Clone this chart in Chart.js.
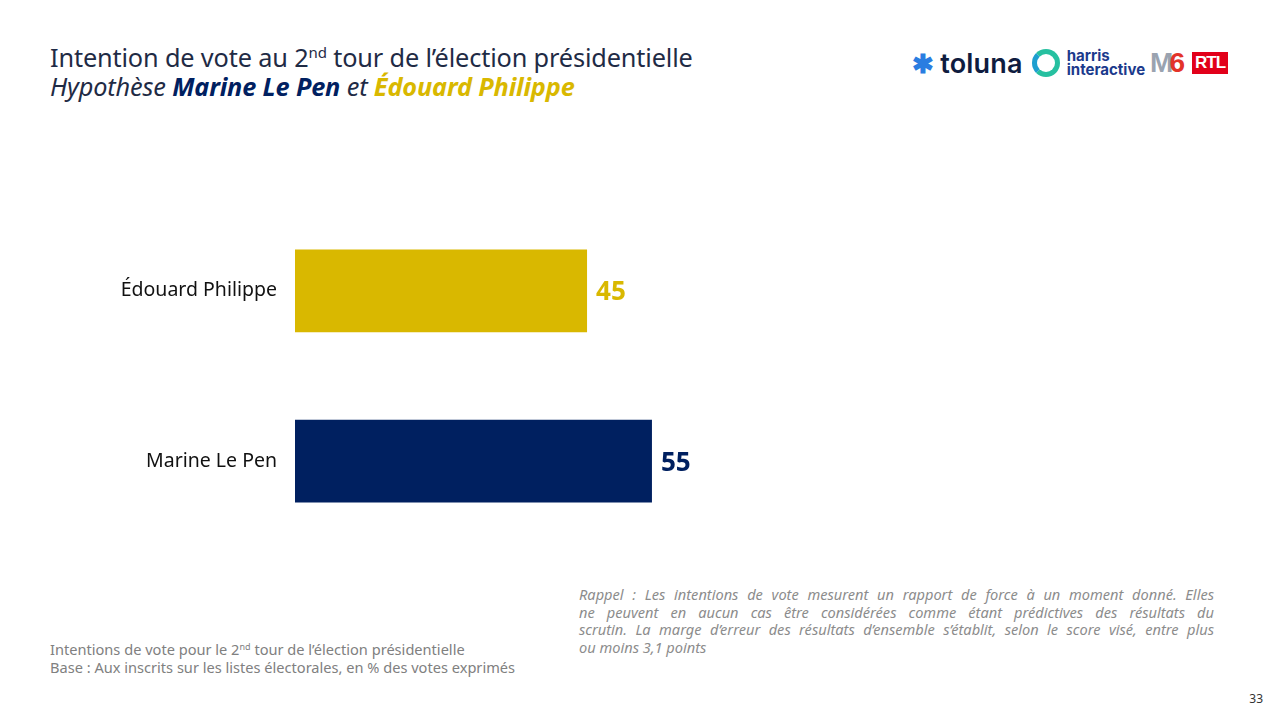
<!DOCTYPE html>
<html lang="fr">
  <head>
    <meta charset="UTF-8" />
    <script src="https://cdn.jsdelivr.net/npm/chart.js@4.4.0/dist/chart.umd.min.js"></script>
    <title>Intention de vote 2nd tour</title>
    <style>
      html, body { margin: 0; padding: 0; background: #fff; }
      body { width: 1280px; height: 720px; position: relative; overflow: hidden; font-family: "Noto Sans", sans-serif; }
      .title { position: absolute; left: 50px; top: 43px; color: #1f2b45; font-size: 25.3px; line-height: 29px; letter-spacing: -0.15px; }
      .title sup { font-size: 15px; vertical-align: 9px; line-height: 0; }
      .title i b.navy { color: #002060; }
      .title i b.gold { color: #d9b800; }
      .chart_wrap { position: absolute; left: 0; top: 184px; width: 1280px; height: 384px; }
      .note_left { position: absolute; left: 50px; top: 641px; color: #808080; font-size: 14.6px; line-height: 17.5px; }
      .note_left sup { font-size: 9px; vertical-align: 5px; line-height: 0; }
      .note_right { position: absolute; left: 579px; top: 586px; width: 635px; color: #8c8c8c; font-size: 14.6px; line-height: 17.7px; font-style: italic; }
      .note_right span { display: block; text-align: justify; text-align-last: justify; }
      .note_right span.last { text-align-last: left; }
      .page_num { position: absolute; right: 17px; top: 690px; font-size: 12px; color: #333; }
      .logos { position: absolute; left: 912px; top: 46px; height: 34px; display: flex; align-items: center; }
      .toluna { font-family: "Inter", sans-serif; font-weight: 600; font-size: 27px; color: #0f1c3f; letter-spacing: 0.2px; }
      .toluna .star { color: #2a7de1; font-size: 26px; margin-right: 6px; }
      .ring { width: 18px; height: 18px; border-radius: 50%; border: 5px solid #26c0a0; border-left-color: #1e9fd0; margin-left: 9px; margin-right: 7px; }
      .harris { font-family: "Inter", sans-serif; font-weight: 700; font-size: 15px; line-height: 14px; color: #1b3a8c; }
      .m6 { font-family: "Liberation Sans", sans-serif; font-weight: 700; font-size: 28px; color: #9aa3b0; margin-left: 5px; letter-spacing: -4px; }
      .m6 span { color: #e3332a; }
      .rtl { background: #e2001a; color: #fff; font-family: "Liberation Sans", sans-serif; font-weight: 700; font-size: 17px; line-height: 20px; padding: 1px 3px; margin-left: 11px; letter-spacing: -1px; }
    </style>
  </head>
  <body>
    <div class="title">
      Intention de vote au 2<sup>nd</sup> tour de l’élection présidentielle<br />
      <i>Hypothèse <b class="navy">Marine Le Pen</b> et <b class="gold">Édouard Philippe</b></i>
    </div>

    <div class="logos">
      <span class="toluna"><span class="star">✱</span>toluna</span>
      <span class="ring"></span>
      <span class="harris">harris<br />interactive</span>
      <span class="m6">M<span>6</span></span>
      <span class="rtl">RTL</span>
    </div>

    <div class="chart_wrap">
      <canvas id="myChart"></canvas>
    </div>

    <div class="note_right">
      <span>Rappel : Les intentions de vote mesurent un rapport de force à un moment donné. Elles</span>
      <span>ne peuvent en aucun cas être considérées comme étant prédictives des résultats du</span>
      <span>scrutin. La marge d’erreur des résultats d’ensemble s’établit, selon le score visé, entre plus</span>
      <span class="last">ou moins 3,1 points</span>
    </div>
    <div class="note_left">
      Intentions de vote pour le 2<sup>nd</sup> tour de l’élection présidentielle<br />
      Base : Aux inscrits sur les listes électorales, en % des votes exprimés
    </div>
    <div class="page_num">33</div>

    <script>
      const candidates = ["Édouard Philippe", "Marine Le Pen"];
      const scores = [45, 55];
      const barColors = ["#d9b800", "#002060"];

      // étiquettes de valeur au bout des barres
      const valueLabels = {
        id: "valueLabels",
        afterDatasetsDraw(chart) {
          const ctx = chart.ctx;
          const meta = chart.getDatasetMeta(0);
          ctx.save();
          ctx.font = "bold 26px 'Noto Sans', sans-serif";
          ctx.textBaseline = "middle";
          ctx.textAlign = "left";
          meta.data.forEach((bar, i) => {
            ctx.fillStyle = barColors[i];
            ctx.fillText(String(scores[i]), bar.x + 9, bar.y + 2);
          });
          ctx.restore();
        },
      };

      const data = {
        labels: candidates,
        datasets: [
          {
            data: scores,
            backgroundColor: barColors,
            categoryPercentage: 1,
            barPercentage: 0.485,
          },
        ],
      };

      const config = {
        type: "bar",
        data: data,
        options: {
          indexAxis: "y",
          responsive: true,
          maintainAspectRatio: false,
          animation: false,
          layout: { padding: { left: 0, right: 336, top: 0, bottom: 0 } },
          plugins: { legend: { display: false }, tooltip: { enabled: false } },
          scales: {
            x: { display: false, min: 0, max: 100 },
            y: {
              grid: { display: false },
              border: { display: false },
              ticks: {
                color: "#111",
                padding: 10,
                font: { family: "'Noto Sans', sans-serif", size: 19.5 },
              },
              afterFit: (scale) => {
                scale.width = 295;
              },
            },
          },
        },
        plugins: [valueLabels],
      };

      const myChart = new Chart(document.getElementById("myChart"), config);
    </script>
  </body>
</html>
